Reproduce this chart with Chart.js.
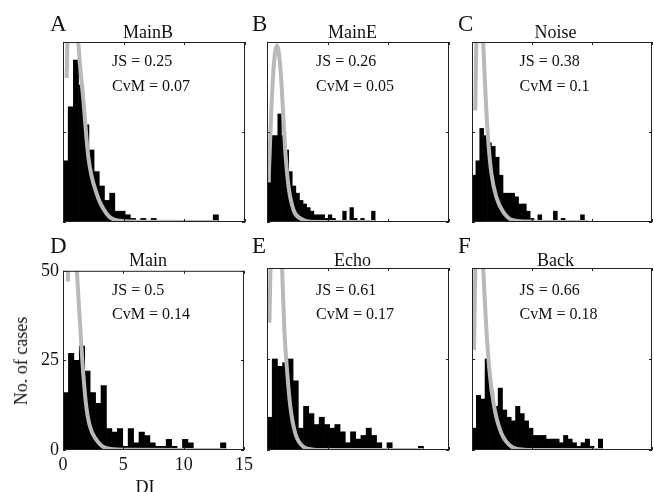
<!DOCTYPE html>
<html>
<head>
<meta charset="utf-8">
<script src="https://cdn.jsdelivr.net/npm/chart.js@4.4.1/dist/chart.umd.min.js"></script>
<style>
  body { margin: 0; width: 654px; height: 492px; overflow: hidden; position: relative; background: #fff; }
  canvas { position: absolute; }
  .txt { position: absolute; white-space: nowrap; line-height: 1; font-family: 'Liberation Serif', 'Times New Roman', serif; color: #111; }
</style>
</head>
<body>
<script>
// ---- data ----
const panelNames = ['MainB', 'MainE', 'Noise', 'Main', 'Echo', 'Back'];
const panelLetters = ['A', 'B', 'C', 'D', 'E', 'F'];
const jsValues = ['0.25', '0.26', '0.38', '0.5', '0.61', '0.66'];
const cvmValues = ['0.07', '0.05', '0.1', '0.14', '0.17', '0.18'];

// histogram: 30 bins from DI = 0, bin width differs per panel
const binWidths = [0.427, 0.297, 0.323, 0.45, 0.43, 0.363];
const countsMainB = [17, 32, 45, 38, 27, 20, 14, 10, 6, 8, 3, 3, 2, 1, 0, 1, 0, 1, 0, 0, 0, 0, 0, 0, 0, 0, 0, 0, 0, 2];
const countsMainE = [11, 24, 24, 30, 24, 20, 14, 10, 8, 6, 5, 4, 3, 2, 2, 2, 1, 2, 1, 0, 0, 3, 0, 4, 1, 0, 1, 0, 0, 3];
const countsNoise = [13, 17, 26, 24, 22, 21, 18, 13, 8, 8, 8, 7, 5, 5, 3, 1, 0, 2, 0, 0, 0, 3, 0, 1, 0, 0, 0, 0, 2, 0];
const countsMain  = [16, 27, 25, 29, 22, 16, 13, 18, 6, 5, 6, 1, 6, 2, 5, 4, 2, 1, 1, 3, 1, 0, 3, 2, 0, 0, 0, 0, 0, 2];
const countsEcho  = [9, 25, 23, 24, 25, 19, 6, 12, 10, 7, 9, 7, 6, 7, 5, 2, 5, 3, 4, 6, 4, 2, 0, 2, 0, 0, 0, 0, 0, 1];
const countsBack  = [6, 15, 14, 25, 16, 12, 17, 11, 9, 8, 12, 10, 8, 6, 4, 4, 4, 3, 3, 3, 2, 4, 3, 2, 1, 2, 3, 1, 0, 3];

// grey fitted curve (goes off the top of each panel)
const fitMainBX = [0.3, 0.45, 0.7, 1.0, 1.26, 1.68, 2.09, 2.77, 3.6, 4.4, 6, 12.8];
const fitMainBY = [40, 62, 80, 70, 50, 33.8, 18, 7.9, 2.3, 0.5, 0.1, 0];
const fitMainEX = [0.13, 0.33, 0.55, 0.82, 1.1, 1.32, 1.5, 1.78, 2.2, 2.75, 3.6, 8.9];
const fitMainEY = [11, 29, 43, 49, 43, 31, 20, 9.7, 3.2, 1, 0.1, 0];
const fitNoiseX = [0.27, 0.4, 0.65, 0.93, 1.15, 1.35, 1.62, 2.03, 2.6, 3.4, 5, 9.7];
const fitNoiseY = [31, 58, 72, 50, 33.8, 22.7, 13.4, 6.9, 2.8, 0.5, 0.1, 0];
const fitMainX  = [0.4, 0.55, 0.85, 1.15, 1.4, 1.62, 1.9, 2.2, 2.77, 3.6, 5, 13.5];
const fitMainY  = [47, 62, 72, 50, 36, 24, 13, 7, 2.8, 0.5, 0.1, 0];
const fitEchoX  = [0.2, 0.35, 0.7, 1.24, 1.43, 1.65, 1.92, 2.33, 3.0, 3.85, 5, 12.9];
const fitEchoY  = [35, 60, 78, 50, 33, 22, 12, 4.6, 0.9, 0.1, 0, 0];
const fitBackX  = [0.17, 0.3, 0.6, 0.93, 1.2, 1.48, 1.9, 2.45, 3.3, 4.3, 6, 10.9];
const fitBackY  = [27.5, 55, 72, 50, 33, 21, 11, 4.6, 0.9, 0.1, 0, 0];

const xTicks = [0, 5, 10, 15];
const yTicks = [0, 25, 50];

const allCounts = [countsMainB, countsMainE, countsNoise, countsMain, countsEcho, countsBack];
const allFitX = [fitMainBX, fitMainEX, fitNoiseX, fitMainX, fitEchoX, fitBackX];
const allFitY = [fitMainBY, fitMainEY, fitNoiseY, fitMainY, fitEchoY, fitBackY];

// ---- layout (plot boxes: left, top, right, bottom) ----
const panelBoxes = [
  [63, 42, 245, 222], [267, 42, 449, 222], [472, 42, 652, 222],
  [63, 268, 245, 450], [267, 268, 449, 450], [472, 268, 652, 450]
];
const serif = "'Liberation Serif', 'Times New Roman', serif";

function addText(str, x, baseline, size, align) {
  const d = document.createElement('div');
  d.className = 'txt';
  d.textContent = str;
  d.style.fontSize = size + 'px';
  d.style.left = x + 'px';
  d.style.top = (baseline - 0.8375 * size) + 'px';
  const shift = align === 'center' ? '-50%' : (align === 'right' ? '-100%' : '0');
  d.style.transform = 'translateX(' + shift + ')';
  document.body.appendChild(d);
  return d;
}

// box round the axes + small inward ticks, like matlab
const framePlugin = {
  id: 'frame',
  afterDatasetsDraw(chart) {
    const ctx = chart.ctx;
    const a = chart.chartArea;
    const xs = chart.scales.x, ys = chart.scales.y;
    ctx.save();
    ctx.strokeStyle = '#222';
    ctx.lineWidth = 1;
    ctx.strokeRect(a.left + 0.5, a.top + 0.5, a.right - a.left - 1, a.bottom - a.top - 1);
    ctx.beginPath();
    xTicks.forEach(v => {
      const px = Math.round(xs.getPixelForValue(v)) + 0.5;
      ctx.moveTo(px, a.bottom); ctx.lineTo(px, a.bottom - 3);
      ctx.moveTo(px, a.top); ctx.lineTo(px, a.top + 3);
    });
    yTicks.forEach(v => {
      const py = Math.round(ys.getPixelForValue(v)) + 0.5;
      ctx.moveTo(a.left, py); ctx.lineTo(a.left + 3, py);
      ctx.moveTo(a.right, py); ctx.lineTo(a.right - 3, py);
    });
    ctx.stroke();
    ctx.restore();
  }
};

function makePanel(i) {
  const [l, t, r, b] = panelBoxes[i];
  const withAxes = (i === 3);   // only panel D shows tick labels
  const pad = 12;
  let cl, ct, cw, ch;
  if (withAxes) {
    cl = 0; ct = t - pad; cw = r + pad; ch = 492 - ct;
  } else {
    cl = l - pad; ct = t - pad; cw = r - l + 2 * pad; ch = b - t + 2 * pad;
  }
  const canvas = document.createElement('canvas');
  canvas.width = cw; canvas.height = ch;
  canvas.style.left = cl + 'px'; canvas.style.top = ct + 'px';
  canvas.style.width = cw + 'px'; canvas.style.height = ch + 'px';
  document.body.appendChild(canvas);

  const w = binWidths[i];
  const bars = allCounts[i].map((c, k) => ({ x: (k + 0.5) * w, y: c }));
  const curve = allFitX[i].map((x, k) => ({ x: x, y: allFitY[i][k] }));
  const tickFont = { family: serif, size: 18 };

  const xScale = {
    type: 'linear', min: 0, max: 15, offset: false, display: withAxes,
    grid: { display: false, drawTicks: false }, border: { display: false },
    ticks: { stepSize: 5, padding: 4, font: tickFont, color: '#111', maxRotation: 0, autoSkip: false }
  };
  const yScale = {
    type: 'linear', min: 0, max: 50, display: withAxes,
    grid: { display: false, drawTicks: false }, border: { display: false },
    ticks: { stepSize: 25, padding: 4, font: tickFont, color: '#111' }
  };
  if (withAxes) {
    // pin the plot box to the same place as in the figure
    xScale.afterFit = s => { s.height = ch - pad - (b - t); };
    yScale.afterFit = s => { s.width = l; };
  }

  new Chart(canvas.getContext('2d'), {
    type: 'bar',
    data: {
      datasets: [
        { type: 'bar', data: bars, backgroundColor: '#000', borderWidth: 0,
          barPercentage: 1, categoryPercentage: 1, order: 2 },
        { type: 'line', data: curve, borderColor: '#b9b9b9', borderWidth: 4,
          pointRadius: 0, fill: false, cubicInterpolationMode: 'monotone', clip: 0, order: 1 }
      ]
    },
    options: {
      responsive: false,
      animation: false,
      devicePixelRatio: 1,
      layout: { padding: withAxes ? { left: 0, top: pad, right: pad, bottom: 0 } : pad },
      plugins: { legend: { display: false }, tooltip: { enabled: false } },
      scales: { x: xScale, y: yScale }
    },
    plugins: [framePlugin]
  });

  // letters, titles and the two statistics
  const top = i < 3;
  const colCentre = [148, 352.5, 555.5][i % 3];
  addText(panelLetters[i], [50, 252, 458][i % 3], top ? 31.7 : 253.5, 23, 'left');
  addText(panelNames[i], colCentre, top ? 37.7 : 266.3, 18, 'center');
  addText('JS = ' + jsValues[i], [112, 316, 519.5][i % 3], top ? 66.7 : 295, 16, 'left');
  addText('CvM = ' + cvmValues[i], [112, 316, 519.5][i % 3], top ? 91 : 319, 16, 'left');
}

for (let i = 0; i < 6; i++) makePanel(i);

// axis titles of panel D
const yl = addText('No. of cases', 21, 361, 18, 'left');
yl.style.top = '361px';
yl.style.transform = 'translate(-50%, -50%) rotate(-90deg)';
addText('DI', 145, 493, 18, 'center');
</script>
</body>
</html>
